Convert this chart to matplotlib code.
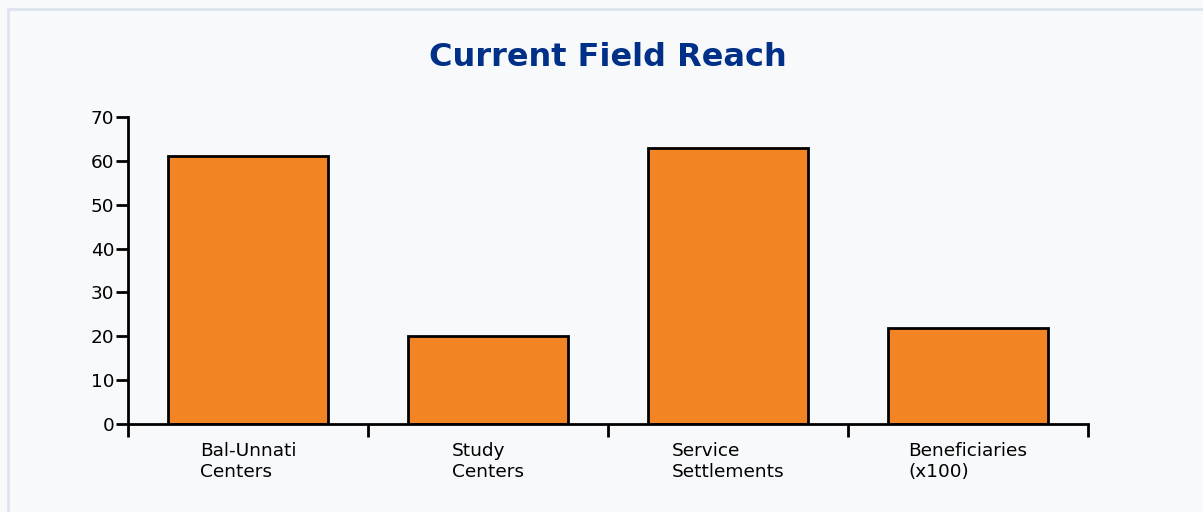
import numpy as np
import matplotlib.pyplot as plt
from matplotlib.patches import Rectangle

plt.rcParams["font.family"] = ["DejaVu Sans"]

# data
categories = ["Bal-Unnati\nCenters", "Study\nCenters", "Service\nSettlements", "Beneficiaries\n(x100)"]
values = [61, 20, 63, 22]

bg = "#f8f9fb"
bar_color = "#f38423"
title_color = "#003087"

fig = plt.figure(figsize=(12.03, 5.12), dpi=100, facecolor=bg)
# panel border
fig.patches.append(Rectangle((8 / 1203, -0.1), 1.2, 1 - 9 / 512 + 0.1,
                             transform=fig.transFigure, facecolor="none",
                             edgecolor="#dde4ee", linewidth=2, zorder=0))

ax = fig.add_axes([128 / 1203, 1 - 424 / 512, 960 / 1203, 307 / 512])
ax.set_facecolor(bg)

x = np.arange(len(categories))
ax.bar(x, values, width=0.667, color=bar_color, edgecolor="black", linewidth=2)

ax.set_xlim(-0.5, len(categories) - 0.5)
ax.set_ylim(0, 70)
ax.set_yticks(range(0, 71, 10))

# ticks at the category boundaries, labels at the centres
ax.set_xticks(np.arange(-0.5, len(categories)), minor=False)
ax.set_xticklabels([])
ax.set_xticks(x, minor=True)
ax.set_xticklabels(categories, minor=True, fontsize=13.3, ha="center", multialignment="left",
                   linespacing=1.22)
ax.tick_params(axis="x", which="minor", length=0, pad=13)
ax.tick_params(axis="x", which="major", length=9, width=2)
ax.tick_params(axis="y", length=9, width=2, labelsize=13.3, pad=1)

for s in ["top", "right"]:
    ax.spines[s].set_visible(False)
for s in ["left", "bottom"]:
    ax.spines[s].set_linewidth(2)

fig.text(608 / 1203, 1 - 58 / 512, "Current Field Reach", ha="center", va="center",
         fontsize=23, fontweight="bold", color=title_color)

fig.savefig("out.png", dpi=100, facecolor=bg)
